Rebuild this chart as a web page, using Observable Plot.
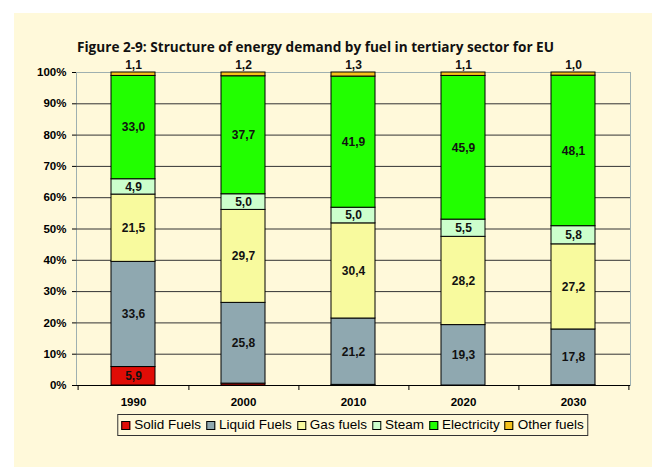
<!DOCTYPE html>
<html><head><meta charset="utf-8">
<script src="https://cdn.jsdelivr.net/npm/d3@7"></script>
<script src="https://cdn.jsdelivr.net/npm/@observablehq/plot@0.6"></script>
<style>
html,body{margin:0;padding:0;background:#fff;}
body{width:652px;height:467px;overflow:hidden;position:relative;font-family:"Liberation Sans",Arial,sans-serif;}
#panel{position:absolute;left:14px;top:13px;width:638px;height:454px;background:#FFF9DA;}
#title{position:absolute;left:62.5px;top:25px;font-family:"Open Sans",sans-serif;font-weight:bold;font-size:14.5px;line-height:18px;white-space:nowrap;color:#111;transform-origin:0 0;}
#chart{position:absolute;left:0;top:37px;}
#legend{position:absolute;top:401px;left:339px;transform:translateX(-50%);display:flex;align-items:center;white-space:nowrap;border:1px solid #333;background:#FFF9DA;padding:1px 4px 1px 3px;font-size:13.5px;line-height:18px;color:#000;}
#legend .item{display:flex;align-items:center;margin-right:5px;}
#legend .item:last-child{margin-right:0;}
#legend .sw{width:7px;height:7px;border:1px solid #000;margin-right:4px;}
</style>
</head><body>
<div id="panel">
  <div id="chart"></div>
  <div id="title">Figure 2-9: Structure of energy demand by fuel in tertiary sector for EU</div>
  <div id="legend"></div>
</div>
<script>
const years = ["1990", "2000", "2010", "2020", "2030"];
const fuels = ["Solid Fuels", "Liquid Fuels", "Gas fuels", "Steam", "Electricity", "Other fuels"];
const solidFuels  = [5.9, 0.6, 0.2, 0.0, 0.1];
const liquidFuels = [33.6, 25.8, 21.2, 19.3, 17.8];
const gasFuels    = [21.5, 29.7, 30.4, 28.2, 27.2];
const steam       = [4.9, 5.0, 5.0, 5.5, 5.8];
const electricity = [33.0, 37.7, 41.9, 45.9, 48.1];
const otherFuels  = [1.1, 1.2, 1.3, 1.1, 1.0];
const yTicks = [0, 10, 20, 30, 40, 50, 60, 70, 80, 90, 100];
const colors = ["#E00C06", "#8FA8B0", "#F8FA9E", "#CCFFCC", "#22FF00", "#F5C21B"];

const series = [solidFuels, liquidFuels, gasFuels, steam, electricity, otherFuels];
const rows = [];
fuels.forEach((f, j) => years.forEach((y, i) => rows.push({year: y, fuel: f, value: series[j][i]})));
const fmt = v => v.toFixed(1).replace(".", ",");

const W = 638, H = 362, ML = 62, MR = 22, MT = 22, MB = 27;
const step = (W - ML - MR) / years.length;

const chart = Plot.plot({
  width: W, height: H,
  marginLeft: ML, marginRight: MR, marginTop: MT, marginBottom: MB,
  style: {background: "transparent", fontFamily: "'Liberation Sans', Arial, sans-serif", fontSize: "11.5px", fontWeight: "bold", color: "#000"},
  x: {domain: years, paddingInner: 0.6, paddingOuter: 0.3, tickSize: 0, tickPadding: 12, label: null},
  y: {domain: [0, 100], ticks: yTicks, tickFormat: d => d + "%", tickSize: 4, tickPadding: 6, label: null, line: true},
  color: {domain: fuels, range: colors},
  marks: [
    Plot.frame({stroke: "#9FB0B0"}),
    Plot.ruleY(yTicks.slice(1, -1), {stroke: "#333", strokeWidth: 1}),
    Plot.barY(rows, Plot.stackY({x: "year", y: "value", fill: "fuel", order: fuels, stroke: "#000", strokeWidth: 1})),
    Plot.text(rows, Plot.stackY({x: "year", y: "value", z: "fuel", order: fuels,
      text: d => (d.fuel !== "Other fuels" && d.value >= 1) ? fmt(d.value) : "",
      fontSize: 12, fontWeight: "bold", fill: "#111"})),
    Plot.text(rows.filter(d => d.fuel === "Other fuels"), {x: "year", y: () => 100, text: d => fmt(d.value), dy: -7, fontSize: 12, fontWeight: "bold", fill: "#111"}),
    Plot.ruleY([0], {stroke: "#000"}),
    Plot.ruleX(years, {x: d => d, y1: 0, y2: 0, insetBottom: -5, dx: step / 2, stroke: "#000"}),
    Plot.ruleX([years[0]], {x: d => d, y1: 0, y2: 0, insetBottom: -5, dx: -step / 2, stroke: "#000"})
  ]
});
document.getElementById("chart").appendChild(chart);

const legend = document.getElementById("legend");
fuels.forEach((f, j) => {
  const it = document.createElement("div");
  it.className = "item";
  const sw = document.createElement("div");
  sw.className = "sw";
  sw.style.background = colors[j];
  const tx = document.createElement("span");
  tx.textContent = f;
  it.appendChild(sw); it.appendChild(tx);
  legend.appendChild(it);
});

const title = document.getElementById("title");
const tw = title.getBoundingClientRect().width;
title.style.transform = `scaleX(${477 / tw})`;
</script>
</body></html>
